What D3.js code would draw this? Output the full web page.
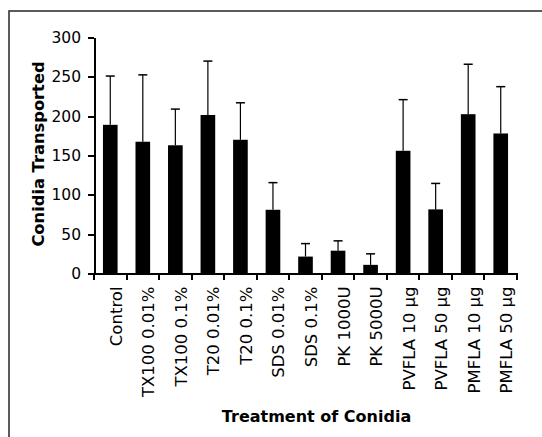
<!DOCTYPE html>
<html>
<head>
<meta charset="utf-8">
<script src="https://d3js.org/d3.v7.min.js"></script>
<style>
  body { margin: 0; background: #fff; }
  svg { display: block; }
  svg text { font-family: "DejaVu Sans", Verdana, sans-serif; fill: #000; }
  .axis path, .axis line { stroke: #000; stroke-width: 2px; shape-rendering: crispEdges; }
</style>
</head>
<body>
<div id="chart"></div>
<script>
// data
var treatments = ["Control", "TX100 0.01%", "TX100 0.1%", "T20 0.01%", "T20 0.1%",
  "SDS 0.01%", "SDS 0.1%", "PK 1000U", "PK 5000U",
  "PVFLA 10 \u00b5g", "PVFLA 50 \u00b5g", "PMFLA 10 \u00b5g", "PMFLA 50 \u00b5g"];
var means = [189, 167.5, 163, 201.5, 170, 81, 21.5, 29, 11, 156, 81.5, 202.5, 178];
var errors = [62, 85, 46, 68.5, 47, 34.5, 16.5, 12.5, 14, 65, 33, 63.5, 59.5];
var yTicks = [0, 50, 100, 150, 200, 250, 300];

var W = 542, H = 437;
var margin = {top: 37.5, left: 94, right: 25, bottom: 163.5};

var svg = d3.select("#chart").append("svg")
  .attr("width", W).attr("height", H);

// outer frame (runs off the right and bottom edges)
svg.append("rect")
  .attr("x", 9).attr("y", 11)
  .attr("width", W).attr("height", H)
  .attr("fill", "none").attr("stroke", "#333").attr("stroke-width", 1.6);

var x = d3.scaleBand()
  .domain(treatments)
  .range([margin.left, W - margin.right])
  .paddingInner(0.55).paddingOuter(0.275);

var y = d3.scaleLinear()
  .domain([0, 300])
  .range([H - margin.bottom, margin.top]);

// error bars (upper only)
var eb = svg.append("g").selectAll("g")
  .data(treatments).enter().append("g");
eb.append("line")
  .attr("x1", function(d){ return x(d) + x.bandwidth()/2; })
  .attr("x2", function(d){ return x(d) + x.bandwidth()/2; })
  .attr("y1", function(d,i){ return y(means[i]); })
  .attr("y2", function(d,i){ return y(means[i] + errors[i]); })
  .attr("stroke", "#000").attr("stroke-width", 1.2);
eb.append("line")
  .attr("x1", function(d){ return x(d) + x.bandwidth()/2 - 4.5; })
  .attr("x2", function(d){ return x(d) + x.bandwidth()/2 + 4.5; })
  .attr("y1", function(d,i){ return y(means[i] + errors[i]); })
  .attr("y2", function(d,i){ return y(means[i] + errors[i]); })
  .attr("stroke", "#000").attr("stroke-width", 1.5);

// bars
svg.append("g").selectAll("rect")
  .data(treatments).enter().append("rect")
  .attr("x", function(d){ return x(d); })
  .attr("width", x.bandwidth())
  .attr("y", function(d,i){ return y(means[i]); })
  .attr("height", function(d,i){ return y(0) - y(means[i]); })
  .attr("fill", "#000");

// y axis
var yAxis = svg.append("g").attr("class", "axis")
  .attr("transform", "translate(" + margin.left + ",0)")
  .call(d3.axisLeft(y).tickValues(yTicks).tickSize(6).tickSizeOuter(0).tickPadding(7));
yAxis.selectAll("text").style("font-size", "15.5px");

// x axis with ticks at category boundaries
var step = x.step();
var bounds = d3.range(treatments.length + 1).map(function(i){ return margin.left + i * step; });
var xg = svg.append("g").attr("class", "axis");
xg.append("line")
  .attr("x1", margin.left - 2).attr("x2", bounds[bounds.length-1] + 1)
  .attr("y1", y(0)).attr("y2", y(0));
xg.selectAll("line.tick").data(bounds).enter().append("line")
  .attr("class", "tick")
  .attr("x1", function(d){ return d; }).attr("x2", function(d){ return d; })
  .attr("y1", y(0)).attr("y2", y(0) + 6);
xg.selectAll("text").data(treatments).enter().append("text")
  .attr("transform", function(d){
    return "translate(" + (x(d) + x.bandwidth()/2 + 11.5) + "," + (y(0) + 13) + ") rotate(-90)";
  })
  .attr("text-anchor", "end")
  .style("font-size", "16.5px")
  .text(function(d){ return d; });

// axis titles
svg.append("text")
  .attr("transform", "translate(44,154) rotate(-90)")
  .attr("text-anchor", "middle")
  .style("font-size", "16.3px").style("font-weight", "bold")
  .text("Conidia Transported");

svg.append("text")
  .attr("x", 316.5).attr("y", 422)
  .attr("text-anchor", "middle")
  .style("font-size", "16px").style("font-weight", "bold")
  .text("Treatment of Conidia");
</script>
</body>
</html>
